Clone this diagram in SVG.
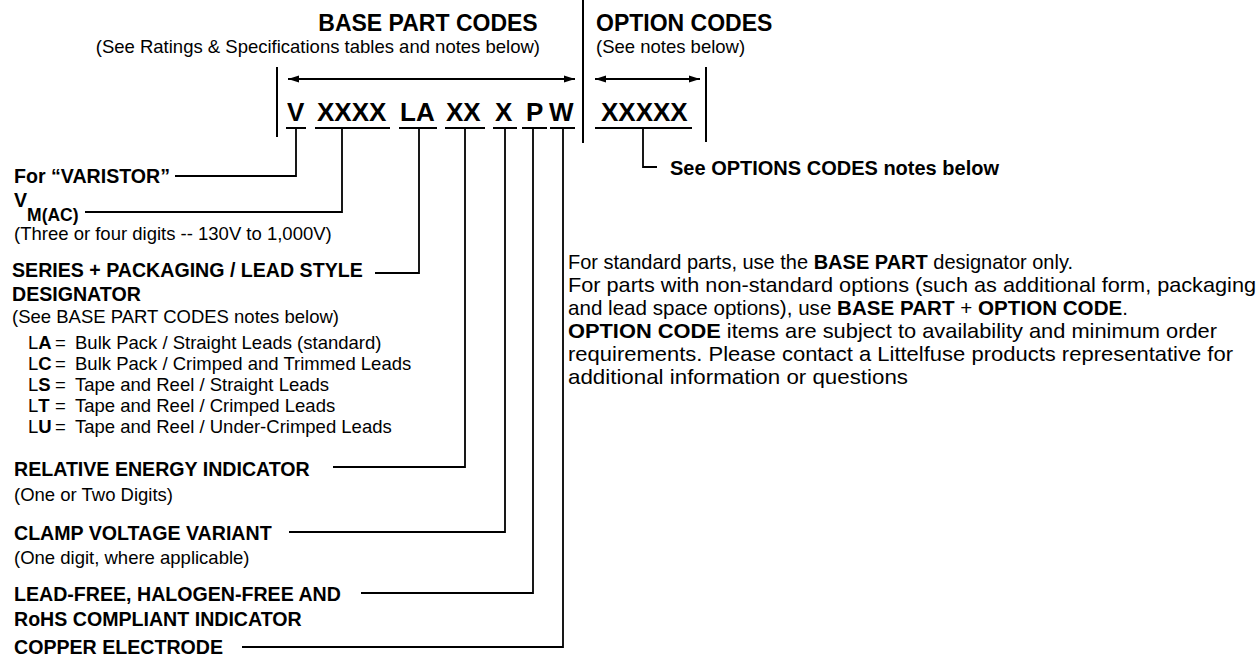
<svg xmlns="http://www.w3.org/2000/svg" width="1260" height="658" viewBox="0 0 1260 658">
<style>
text{font-family:"Liberation Sans",Arial,Helvetica,sans-serif;fill:#000}
.h{font-size:23px;font-weight:bold}
.s{font-size:18.5px}
.b{font-size:19.6px;font-weight:bold}
.c{font-size:26px;font-weight:bold}
.p{font-size:20.4px}
.k{font-weight:bold}
.ln{stroke:#000;stroke-width:1.8;fill:none}
.bar{stroke:#000;stroke-width:2;fill:none}
</style>
<defs>
<marker id="ah" viewBox="0 0 11 8" refX="11" refY="4" markerWidth="11" markerHeight="8" markerUnits="userSpaceOnUse" orient="auto-start-reverse"><path d="M0,0.5 L11,4 L0,7.5 z" fill="#000"/></marker>
</defs>
<rect width="1260" height="658" fill="#fff"/>
<g id="base-header">
<text class="h" x="428" y="31" text-anchor="middle">BASE PART CODES</text>
<text class="s" x="540" y="53" text-anchor="end">(See Ratings &amp; Specifications tables and notes below)</text>
<line class="bar" x1="277" y1="67" x2="277" y2="137"/>
<line class="bar" x1="288" y1="79" x2="575" y2="79" marker-start="url(#ah)" marker-end="url(#ah)"/>
</g>
<g id="divider"><line class="bar" x1="583" y1="0" x2="583" y2="143"/></g>
<g id="option-header">
<text class="h" x="596" y="31">OPTION CODES</text>
<text class="s" x="596" y="53">(See notes below)</text>
<line class="bar" x1="595" y1="79" x2="700" y2="79" marker-start="url(#ah)" marker-end="url(#ah)"/>
<line class="bar" x1="706" y1="67" x2="706" y2="142"/>
</g>
<g id="code">
<text class="c" y="121"><tspan x="287">V</tspan><tspan x="317">XXXX</tspan><tspan x="400">LA</tspan><tspan x="446">XX</tspan><tspan x="495">X</tspan><tspan x="526">P</tspan><tspan x="549">W</tspan></text>
<text class="c" x="601" y="121">XXXXX</text>
<path class="bar" d="M286,128H306M315,128H390M399,128H437M445,128H485M493,128H517M522,128H547M550,128H575M595,128H692"/>
</g>
<g id="connectors" class="ln">
<path d="M296,128V176H175"/>
<path d="M342,128V212H85"/>
<path d="M419,128V273H375"/>
<path d="M465,128V467H333"/>
<path d="M505,128V532H289"/>
<path d="M533,128V593H361"/>
<path d="M563,128V647H242"/>
<path d="M643,128V167H657"/>
</g>
<g id="varistor"><text class="b" x="14" y="183">For “VARISTOR”</text></g>
<g id="vmac">
<text class="b" x="14" y="207">V<tspan dy="14" font-size="17.5">M(AC)</tspan></text>
<text class="s" x="14" y="240">(Three or four digits -- 130V to 1,000V)</text>
</g>
<g id="series">
<text class="b" x="12" y="277">SERIES + PACKAGING / LEAD STYLE</text>
<text class="b" x="12" y="301">DESIGNATOR</text>
<text class="s" x="12" y="323">(See BASE PART CODES notes below)</text>
<text class="s" y="349"><tspan x="28">L</tspan><tspan class="k">A</tspan><tspan x="55">=</tspan><tspan x="75">Bulk Pack / Straight Leads (standard)</tspan></text>
<text class="s" y="370"><tspan x="28">L</tspan><tspan class="k">C</tspan><tspan x="55">=</tspan><tspan x="75">Bulk Pack / Crimped and Trimmed Leads</tspan></text>
<text class="s" y="391"><tspan x="28">L</tspan><tspan class="k">S</tspan><tspan x="55">=</tspan><tspan x="75">Tape and Reel / Straight Leads</tspan></text>
<text class="s" y="412"><tspan x="28">L</tspan><tspan class="k">T</tspan><tspan x="55">=</tspan><tspan x="75">Tape and Reel / Crimped Leads</tspan></text>
<text class="s" y="433"><tspan x="28">L</tspan><tspan class="k">U</tspan><tspan x="55">=</tspan><tspan x="75">Tape and Reel / Under-Crimped Leads</tspan></text>
</g>
<g id="energy">
<text class="b" x="14" y="476">RELATIVE ENERGY INDICATOR</text>
<text class="s" x="14" y="501">(One or Two Digits)</text>
</g>
<g id="clamp">
<text class="b" x="14" y="540">CLAMP VOLTAGE VARIANT</text>
<text class="s" x="14" y="564">(One digit, where applicable)</text>
</g>
<g id="leadfree">
<text class="b" x="14" y="601">LEAD-FREE, HALOGEN-FREE AND</text>
<text class="b" x="14" y="626">RoHS COMPLIANT INDICATOR</text>
</g>
<g id="copper"><text class="b" x="14" y="654">COPPER ELECTRODE</text></g>
<g id="options-note"><text class="b" x="670" y="175" style="font-size:20px">See OPTIONS CODES notes below</text></g>
<g id="paragraph">
<text class="p" x="568" y="269" textLength="505" lengthAdjust="spacingAndGlyphs">For standard parts, use the <tspan class="k">BASE PART</tspan> designator only.</text>
<text class="p" x="568" y="292" textLength="688" lengthAdjust="spacingAndGlyphs">For parts with non-standard options (such as additional form, packaging</text>
<text class="p" x="568" y="315" textLength="560" lengthAdjust="spacingAndGlyphs">and lead space options), use <tspan class="k">BASE PART</tspan> + <tspan class="k">OPTION CODE</tspan>.</text>
<text class="p" x="568" y="338" textLength="649" lengthAdjust="spacingAndGlyphs"><tspan class="k">OPTION CODE</tspan> items are subject to availability and minimum order</text>
<text class="p" x="568" y="361" textLength="665" lengthAdjust="spacingAndGlyphs">requirements. Please contact a Littelfuse products representative for</text>
<text class="p" x="568" y="384" textLength="340" lengthAdjust="spacingAndGlyphs">additional information or questions</text>
</g>
</svg>
